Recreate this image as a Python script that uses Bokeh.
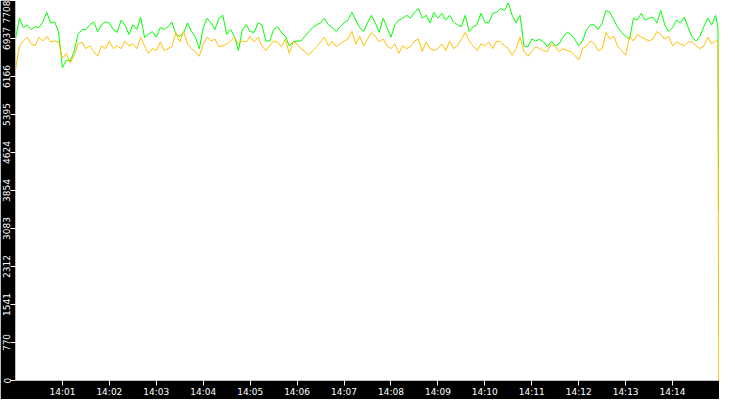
import pandas as pd
from bokeh.plotting import figure
from bokeh.models import Range1d, FixedTicker, PrintfTickFormatter, DatetimeTickFormatter, ColumnDataSource
from bokeh.embed import file_html
from bokeh.resources import INLINE

# sampled every 5 s from 14:00:00, plus the last two samples before the drop
green_values = [
    6926, 7351, 7158, 7216, 7119, 7177, 7158, 7274, 7467, 7254, 7274, 7080, 6346, 6500, 6481,
    6674, 7022, 7119, 7119, 7216, 7274, 7080, 7216, 7274, 7254, 7119, 7061, 7312, 7216, 7022,
    7216, 7119, 7370, 6964, 7022, 7080, 6964, 7158, 7119, 7177, 7274, 7022, 6984, 7061, 7254,
    7080, 6964, 6732, 7158, 7351, 7254, 7119, 7351, 7409, 7022, 7119, 6984, 6694, 7119, 7216,
    7080, 7061, 7254, 7216, 6887, 6887, 7119, 7177, 7061, 6984, 6790, 6868, 6887, 6887, 6984,
    7080, 7158, 7216, 7254, 7351, 7216, 7158, 7080, 7177, 7254, 7312, 7467, 7312, 7158, 7080,
    7254, 7409, 7254, 7061, 7351, 7158, 6964, 7216, 7312, 7351, 7409, 7351, 7467, 7544, 7351,
    7409, 7254, 7467, 7351, 7448, 7312, 7409, 7274, 7216, 7177, 7409, 7080, 7177, 7216, 7448,
    7274, 7254, 7448, 7467, 7544, 7506, 7660, 7409, 7254, 7409, 6790, 6771, 6926, 6887, 6926,
    6868, 6771, 6887, 6790, 6829, 6964, 7061, 7022, 6926, 6790, 6887, 7119, 7216, 7216, 7119,
    7254, 7506, 7467, 7312, 7158, 7061, 6984, 6926, 7351, 7312, 7448, 7312, 7351, 7370, 7254,
    7506, 7216, 7080, 7158, 7312, 7254, 7370, 7158, 6964, 6887, 6984, 7177, 7351, 7216, 7409,
    7177, 3450,
]
orange_values = [
    6307, 6790, 6887, 6964, 6829, 6790, 6964, 6887, 6984, 6868, 6887, 6868, 6539, 6636, 6442,
    6597, 6829, 6868, 6732, 6790, 6674, 6578, 6790, 6732, 6887, 6732, 6790, 6732, 6887, 6790,
    6829, 6732, 6964, 6790, 6636, 6732, 6694, 6868, 6694, 6732, 6771, 7061, 6868, 7080, 6829,
    6732, 6674, 6578, 6829, 6964, 6887, 6926, 6771, 6790, 6829, 6887, 6964, 6829, 6887, 6868,
    6984, 6868, 6964, 6790, 6694, 6790, 6887, 6868, 6771, 6926, 6636, 6868, 6829, 6732, 6674,
    6597, 6694, 6771, 6868, 6964, 6790, 6887, 6771, 6829, 6887, 6926, 7080, 6829, 6984, 6790,
    6926, 7061, 6984, 6868, 6926, 6790, 6732, 6829, 6636, 6790, 6732, 6771, 6887, 6926, 6674,
    6868, 6732, 6694, 6732, 6829, 6694, 6887, 6732, 6790, 6926, 7061, 6887, 6790, 6694, 6829,
    6790, 6868, 6732, 6887, 6868, 6790, 6732, 6597, 6732, 6964, 6674, 6578, 6674, 6771, 6732,
    6694, 6674, 6829, 6771, 6674, 6732, 6694, 6674, 6597, 6500, 6732, 6790, 6887, 6829, 6694,
    6732, 7061, 6926, 6984, 6771, 6694, 6597, 6984, 6887, 7022, 6964, 6926, 6887, 6926, 7080,
    7022, 6926, 6984, 6790, 6868, 6829, 6790, 6868, 6868, 6790, 6732, 6790, 6964, 6829, 6887,
    6887, 0,
]
y_max = 7708
y_tick_count = 10
x_tick_labels = ["14:01", "14:02", "14:03", "14:04", "14:05", "14:06", "14:07",
                 "14:08", "14:09", "14:10", "14:11", "14:12", "14:13", "14:14"]

base = pd.Timestamp("2024-01-01 14:00:00")
offsets = [5 * i for i in range(180)] + [898, 899]
times = [base + pd.Timedelta(seconds=s) for s in offsets]

src = ColumnDataSource(dict(t=times, g=green_values, o=orange_values))

p = figure(width=719, height=399, x_axis_type="datetime", output_backend="svg",
           toolbar_location=None, min_border=0,
           x_range=Range1d(base, base + pd.Timedelta(minutes=15)),
           y_range=Range1d(0, 7709))
p.border_fill_color = "black"
p.background_fill_color = "white"
p.outline_line_color = None
p.grid.visible = False

p.line("t", "g", source=src, color="#00ff00", line_width=1)
p.line("t", "o", source=src, color="#ffc000", line_width=1)

yt = [y_max * k / y_tick_count for k in range(y_tick_count + 1)]
p.yaxis.ticker = FixedTicker(ticks=yt)
p.yaxis.formatter = PrintfTickFormatter(format="%d")
p.yaxis.major_label_orientation = "vertical"

xt = [(pd.Timestamp("2024-01-01 " + s) - pd.Timestamp("1970-01-01")).total_seconds() * 1000
      for s in x_tick_labels]
p.xaxis.ticker = FixedTicker(ticks=xt)
p.xaxis.formatter = DatetimeTickFormatter(minutes="%H:%M", hours="%H:%M", seconds="%H:%M",
                                          minsec="%H:%M", hourmin="%H:%M")

for ax in (p.xaxis, p.yaxis):
    ax.axis_line_color = None
    ax.major_tick_line_color = "white"
    ax.major_tick_in = 0
    ax.major_tick_out = 5
    ax.minor_tick_line_color = None
    ax.major_label_text_color = "white"
    ax.major_label_text_font = "DejaVu Sans"
    ax.major_label_text_font_size = "9px"
    ax.major_label_standoff = 0
p.xaxis.major_label_standoff = 1

open("out.html", "w").write(file_html(p, INLINE))
